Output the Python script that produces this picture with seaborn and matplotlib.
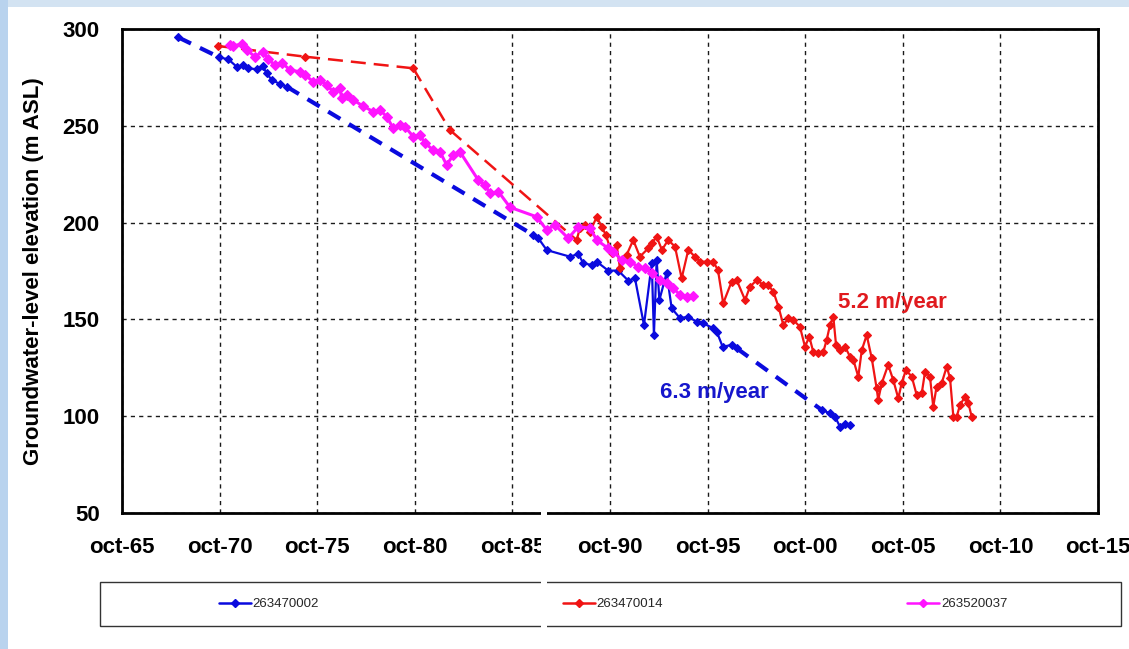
import numpy as np
import pandas as pd
import matplotlib
matplotlib.use("Agg")
import matplotlib.pyplot as plt
import seaborn as sns
from matplotlib.patches import Rectangle
from matplotlib.lines import Line2D
from matplotlib.ticker import FixedLocator
from matplotlib import font_manager

# ---- observation data (decimal year, groundwater level in m ASL) ----
years_002 = [1968.63, 1970.73, 1971.20, 1971.63, 1971.96, 1972.22, 1972.65, 1972.96, 1973.16, 1973.42,
             1973.84, 1974.19,
             1986.82, 1987.08, 1987.51, 1988.70, 1989.13, 1989.38, 1989.81, 1990.07, 1990.66, 1991.17,
             1991.69, 1992.03, 1992.49, 1992.89, 1993.00, 1993.14, 1993.28, 1993.65, 1993.91, 1994.34,
             1994.76, 1995.19, 1995.53, 1996.04, 1996.22, 1996.52, 1996.99, 1997.24,
             2001.60, 2002.02, 2002.28, 2002.53, 2002.80, 2003.05]
level_002 = [295.7, 285.4, 284.3, 280.5, 281.4, 279.7, 279.2, 280.9, 277.1, 273.7,
             271.6, 270.2,
             193.6, 191.9, 185.8, 182.4, 183.8, 179.0, 178.1, 179.8, 175.2, 175.2,
             170.0, 171.2, 147.1, 179.0, 141.9, 180.7, 160.0, 174.0, 155.7, 150.6,
             151.4, 148.8, 148.0, 145.4, 143.6, 135.9, 136.8, 135.1,
             103.2, 101.5, 99.7, 94.6, 96.0, 95.5]

years_014 = [1970.68, 1975.13, 1980.67, 1982.55,
             1989.04, 1989.21, 1989.47, 1989.73, 1990.07, 1990.32, 1990.54, 1990.84, 1991.09, 1991.26,
             1991.60, 1991.94, 1992.28, 1992.71, 1992.88, 1993.14, 1993.41, 1993.73, 1994.08, 1994.42,
             1994.76, 1995.10, 1995.36, 1995.70, 1996.04, 1996.28, 1996.55, 1996.98, 1997.24, 1997.67,
             1997.92, 1998.27, 1998.61, 1998.86, 1999.12, 1999.38, 1999.63, 1999.88, 2000.14, 2000.48,
             2000.74, 2000.96, 2001.16, 2001.42, 2001.68, 2001.85, 2002.02, 2002.19, 2002.33, 2002.53,
             2002.79, 2003.05, 2003.22, 2003.47, 2003.65, 2003.90, 2004.16, 2004.41, 2004.49, 2004.67,
             2005.00, 2005.26, 2005.52, 2005.69, 2005.91, 2006.21, 2006.46, 2006.72, 2006.89, 2007.14,
             2007.31, 2007.48, 2007.74, 2008.00, 2008.17, 2008.34, 2008.51, 2008.68, 2008.94, 2009.11,
             2009.28]
level_014 = [291.2, 285.7, 279.7, 247.8,
             191.0, 197.1, 198.8, 195.3, 203.0, 197.9, 193.6, 184.1, 188.4, 176.4,
             183.3, 191.0, 182.4, 186.7, 189.3, 192.7, 185.9, 191.0, 187.6, 171.2,
             185.9, 182.4, 179.8, 179.8, 179.8, 175.5, 158.3, 169.5, 170.3, 160.0,
             166.9, 170.3, 167.8, 167.8, 164.3, 156.6, 147.1, 150.6, 149.7, 146.2,
             135.9, 141.1, 133.3, 132.5, 133.3, 139.4, 147.1, 151.4, 136.8, 134.2,
             135.9, 130.7, 129.0, 120.4, 134.2, 141.9, 129.9, 114.4, 108.4, 117.0,
             126.5, 118.7, 109.2, 117.0, 123.9, 120.4, 111.0, 111.8, 123.0, 120.4,
             104.9, 115.2, 117.0, 125.6, 119.6, 99.7, 99.7, 105.8, 110.1, 106.7,
             99.7]

years_037 = [1971.28, 1971.45, 1971.88, 1972.14, 1972.56, 1972.96, 1973.24, 1973.59, 1973.93, 1974.36,
             1974.87, 1975.13, 1975.55, 1975.89, 1976.24, 1976.57, 1976.92, 1977.00, 1977.26, 1977.60,
             1978.10, 1978.62, 1978.97, 1979.31, 1979.65, 1979.99, 1980.25, 1980.67, 1981.02, 1981.27,
             1981.70, 1982.04, 1982.38, 1982.72, 1983.06, 1984.00, 1984.35, 1984.60, 1985.03, 1985.63,
             1986.99, 1987.51, 1987.93, 1988.61, 1989.13, 1989.73, 1990.07, 1990.66, 1990.92, 1991.35,
             1991.77, 1992.20, 1992.54, 1992.89, 1993.31, 1993.65, 1993.99, 1994.34, 1994.68, 1995.02]
level_037 = [291.7, 291.2, 292.3, 289.2, 285.7, 288.3, 284.3, 281.4, 282.6, 278.8,
             277.9, 276.2, 272.8, 273.7, 271.1, 267.6, 269.4, 264.2, 265.9, 263.3,
             260.2, 257.3, 258.2, 254.7, 248.7, 250.4, 249.5, 244.4, 245.2, 241.0,
             237.5, 236.6, 229.8, 234.9, 236.6, 222.0, 219.4, 215.1, 216.0, 207.9,
             203.0, 196.2, 198.8, 191.9, 197.9, 197.1, 191.0, 186.7, 185.0, 180.7,
             179.8, 177.2, 176.4, 173.8, 170.3, 168.6, 166.1, 162.6, 161.7, 162.1]

well_ids = ["263470002", "263470014", "263520037"]
well_colors = ["#0a0ade", "#f01414", "#ff14ff"]

x_tick_years = [1965.75, 1970.75, 1975.75, 1980.75, 1985.75, 1990.75,
                1995.75, 2000.75, 2005.75, 2010.75, 2015.75]
x_tick_labels = ["oct-65", "oct-70", "oct-75", "oct-80", "oct-85", "oct-90",
                 "oct-95", "oct-00", "oct-05", "oct-10", "oct-15"]
y_ticks = [50, 100, 150, 200, 250, 300]

rate_labels = ["6.3 m/year", "5.2 m/year"]
rate_positions = [(1993.3, 112.0), (2002.43, 158.5)]
rate_colors = ["#1616cc", "#e01a1e"]

# ---- styling ----
sns.set_theme(style="white")
plt.rcParams["font.family"] = ["Liberation Sans", "DejaVu Sans"]
available = {f.name for f in font_manager.fontManager.ttflist}
legend_family = "Liberation Sans Narrow" if "Liberation Sans Narrow" in available else "Liberation Sans"

W, H = 1129, 649
fig = plt.figure(figsize=(W / 100, H / 100), dpi=100)
fig.patch.set_facecolor("white")

# pale blue frame bands along the top and left edges
fig.patches.append(Rectangle((0, 1 - 7 / H), 1, 7 / H, transform=fig.transFigure,
                             facecolor="#d3e3f2", edgecolor="none", zorder=0))
fig.patches.append(Rectangle((0, 0), 8 / W, 1, transform=fig.transFigure,
                             facecolor="#b9d3ee", edgecolor="none", zorder=0))

ax = fig.add_axes([122 / W, 1 - 513 / H, (1098 - 122) / W, (513 - 29) / H])
ax.set_facecolor("white")

bridge_styles = {
    "263470002": dict(lw=3.0, linestyle=(0, (3.4, 2.4))),
    "263470014": dict(lw=1.8, linestyle=(0, (6.0, 3.2))),
    "263520037": dict(lw=1.8, linestyle=(0, (6.0, 3.2))),
}
record_styles = {
    "263470002": dict(lw=1.6, markersize=4.4),
    "263470014": dict(lw=1.6, markersize=4.4),
    "263520037": dict(lw=2.2, markersize=5.4),
}

series = [(well_ids[0], years_002, level_002, well_colors[0]),
          (well_ids[1], years_014, level_014, well_colors[1]),
          (well_ids[2], years_037, level_037, well_colors[2])]

for wid, yrs, lvl, color in series:
    df = pd.DataFrame({"year": yrs, "level": lvl})
    gap = df["year"].diff() > 1.5
    df["segment"] = gap.cumsum()
    # dashed connectors across long gaps between observations
    for i in np.flatnonzero(gap.to_numpy()):
        sns.lineplot(data=df.iloc[[i - 1, i]], x="year", y="level", color=color,
                     sort=False, estimator=None, ax=ax, zorder=3, **bridge_styles[wid])
    # continuous records with diamond markers
    for _, seg in df.groupby("segment"):
        sns.lineplot(data=seg, x="year", y="level", color=color,
                     marker="D", markeredgecolor=color, markeredgewidth=0.8,
                     sort=False, estimator=None, ax=ax, zorder=4, **record_styles[wid])

for text, (tx, ty), c in zip(rate_labels, rate_positions, rate_colors):
    ax.text(tx, ty, text, color=c, fontsize=16, fontweight="bold", ha="left", va="center", zorder=5)

ax.set_xlim(x_tick_years[0], x_tick_years[-1])
ax.set_ylim(y_ticks[0], y_ticks[-1])
ax.set_xticks(x_tick_years)
ax.set_xticklabels(x_tick_labels, fontsize=16, fontweight="bold")
ax.xaxis.set_minor_locator(FixedLocator(np.arange(1965.75, 2015.8, 1.0)))
ax.set_yticks(y_ticks)
ax.set_yticklabels([str(v) for v in y_ticks], fontsize=16, fontweight="bold")
ax.tick_params(axis="x", which="major", direction="out", length=8, width=1.5, pad=9, colors="black")
ax.tick_params(axis="x", which="minor", direction="out", length=4, width=1.0, colors="black")
ax.tick_params(axis="y", which="major", direction="out", length=7, width=1.5, pad=9, colors="black")
ax.grid(True, which="major", color="#1a1a1a", lw=1.0, linestyle=(0, (3, 3)))
for s in ax.spines.values():
    s.set_visible(True)
    s.set_color("black")
    s.set_linewidth(2.0)
ax.set_xlabel("")
ax.set_ylabel("")

fig.text(34 / W, 1 - 271 / H, "Groundwater-level elevation (m ASL)", rotation=90,
         fontsize=16, fontweight="bold", ha="center", va="center", color="black")

# legend box under the plot
fig.patches.append(Rectangle((100 / W, 1 - 626 / H), (1121 - 100) / W, (626 - 582) / H,
                             transform=fig.transFigure, facecolor="white",
                             edgecolor="#333333", lw=1.0, zorder=1))
handles = [Line2D([0], [0], color=c, lw=1.8, marker="D", markersize=4, markeredgecolor=c)
           for c in well_colors]
fig.legend(handles, well_ids, loc="center left", bbox_to_anchor=(219 / W, 1 - 604 / H),
           ncol=3, frameon=False, borderpad=0, borderaxespad=0, handlelength=2.4,
           handletextpad=0.15, columnspacing=18.5,
           prop={"family": legend_family, "size": 9.5})

# thin white seam cutting through the axis line and the legend box
fig.add_artist(Rectangle((541 / W, 0), 6 / W, 1 - 506 / H, transform=fig.transFigure,
                         facecolor="white", edgecolor="none", zorder=10))

fig.savefig("out.png", dpi=100, facecolor=fig.get_facecolor())
